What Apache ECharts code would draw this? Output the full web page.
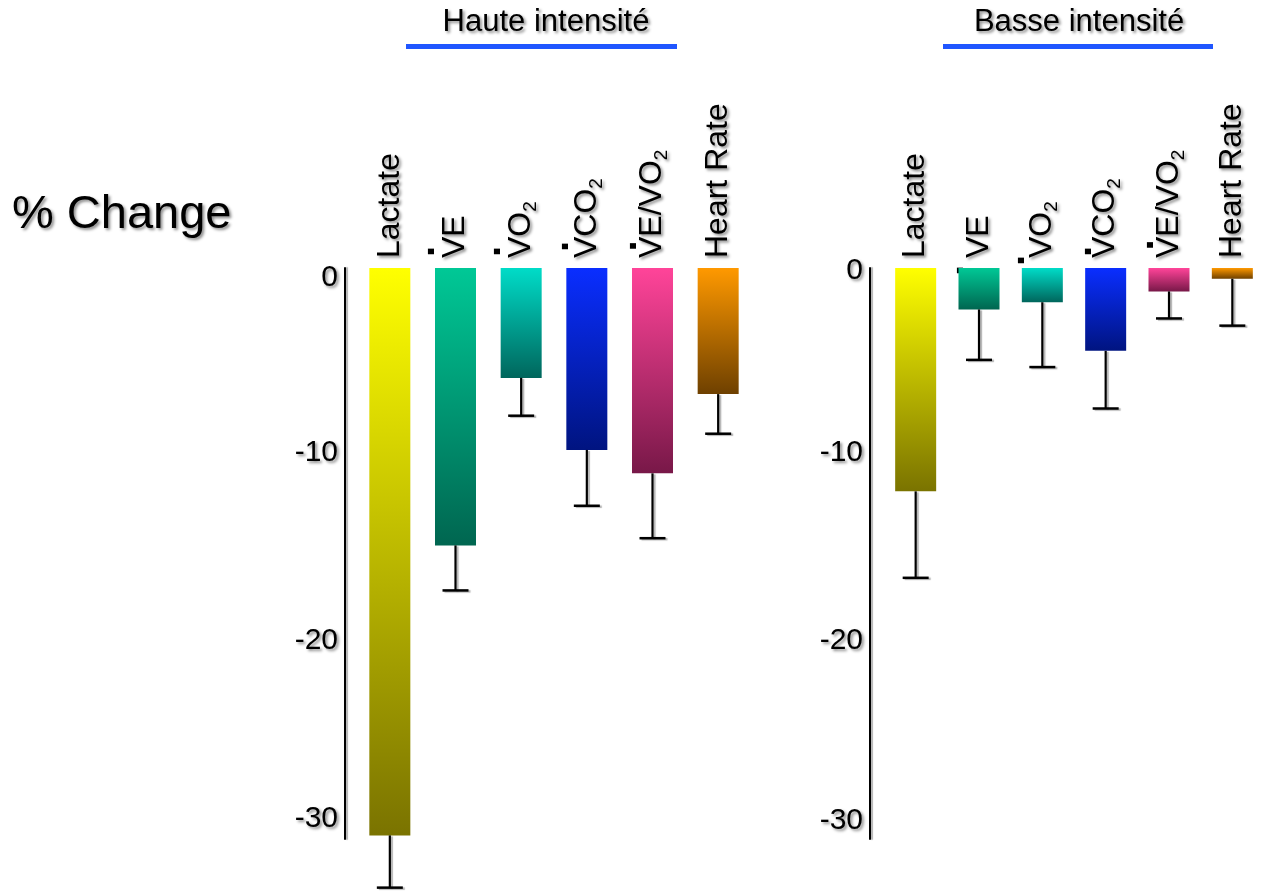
<!DOCTYPE html>
<html>
<head>
<meta charset="utf-8">
<script src="https://cdn.jsdelivr.net/npm/echarts@6/dist/echarts.min.js"></script>
<style>
  html, body { margin: 0; padding: 0; background: #ffffff; }
  #chart { width: 1264px; height: 892px; }
</style>
</head>
<body>
<div id="chart"></div>
<script>
// Measured variables, percent change after exercise
const categories = ['Lactate', 'VE', 'VO2', 'VCO2', 'VE/VO2', 'Heart Rate'];
const highValues = [-31.5, -15.4, -6.1, -10.1, -11.4, -7.0];
const highErrors = [2.9, 2.5, 2.1, 3.1, 3.6, 2.2];
const lowValues = [-12.4, -2.3, -1.9, -4.6, -1.3, -0.6];
const lowErrors = [4.8, 2.8, 3.6, 3.2, 1.5, 2.6];
const yTicks = [0, -10, -20, -30];
const yMin = -31.7;
const panelTitles = ['Haute intensité', 'Basse intensité'];
const axisTitle = '% Change';
const barTopColors = ['#FFFF00', '#00C896', '#00DCC8', '#0A2EFF', '#FF4499', '#FF9900'];
const barBottomColors = ['#7A7300', '#006650', '#00665C', '#001480', '#781848', '#6E4000'];

const FONT = '"Liberation Sans", Arial, Helvetica, sans-serif';
const TEXT_SHADOW = {
  textShadowColor: 'rgba(0,0,0,0.45)',
  textShadowBlur: 3,
  textShadowOffsetX: 2,
  textShadowOffsetY: 2
};

// Placement of the flow-rate dot in each panel's labels:
// shift = offset along the text, lift = box height that sets its distance above the capitals
const dotPlacement = [
  { shift: [0, 1, 1, 6, 6.5, 0], lift: [7, 6, 7, 13, 16, 7] },
  { shift: [0, -18, -8, 1, 7.5, 0], lift: [7, 17, 13, 21, 17, 7] }
];

function dotStyle(shift, lift) {
  return {
    fontSize: 40,
    fontFamily: FONT,
    fontWeight: 'bold',
    color: '#000',
    lineHeight: lift,
    height: lift,
    verticalAlign: 'top',
    width: -shift,
    padding: [0, 0, 0, shift]
  };
}

function categoryRich(panel) {
  const rich = {
    m: Object.assign({ fontSize: 32, fontFamily: FONT, color: '#000', lineHeight: 50 }, TEXT_SHADOW),
    s: Object.assign({ fontSize: 19, fontFamily: FONT, color: '#000', lineHeight: 31, height: 31, verticalAlign: 'bottom' }, TEXT_SHADOW)
  };
  categories.forEach(function (c, i) {
    rich['d' + i] = dotStyle(dotPlacement[panel].shift[i], dotPlacement[panel].lift[i]);
  });
  return rich;
}

// Category names as rich text: dot over the leading V, trailing digit as subscript
function categoryMarkup(name, index) {
  let out = name.charAt(0) === 'V' ? '{d' + index + '|\u00B7}' : '';
  const m = name.match(/^(.*?)(\d)$/);
  if (m) out += '{m|' + m[1] + '}{s|' + m[2] + '}';
  else out += '{m|' + name + '}';
  return out;
}

// vertical shift (px) of each value label below its tick, per panel
const tickLabelShift = [[10, 5, 12, 10], [3, 5, 12, 12]];

function valueAxis(gridIndex, offset) {
  const rich = {};
  tickLabelShift[gridIndex].forEach(function (s, i) {
    rich['t' + i] = Object.assign({ fontSize: 30, fontFamily: FONT, color: '#000', padding: [2 * s, 0, 0, 0] }, TEXT_SHADOW);
  });
  return {
    gridIndex: gridIndex,
    type: 'value',
    min: yMin,
    max: 0,
    offset: offset,
    axisLine: {
      show: true,
      onZero: false,
      lineStyle: { color: '#000', width: 2, shadowColor: 'rgba(0,0,0,0.3)', shadowOffsetX: 2, shadowBlur: 1 }
    },
    axisTick: { show: false },
    splitLine: { show: false },
    axisLabel: {
      customValues: yTicks,
      margin: 7,
      formatter: function (v) {
        const i = yTicks.indexOf(v);
        return '{t' + i + '|' + v + '}';
      },
      rich: rich
    }
  };
}

function categoryAxis(gridIndex) {
  return {
    gridIndex: gridIndex,
    type: 'category',
    data: categories,
    position: 'top',
    axisLine: { show: false, onZero: false },
    axisTick: { show: false },
    axisLabel: {
      interval: 0,
      rotate: -90,
      margin: 10,
      formatter: categoryMarkup,
      rich: categoryRich(gridIndex)
    }
  };
}

function barData(values) {
  return values.map(function (v, i) {
    return {
      value: v,
      itemStyle: {
        color: new echarts.graphic.LinearGradient(0, 0, 0, 1, [
          { offset: 0, color: barTopColors[i] },
          { offset: 1, color: barBottomColors[i] }
        ])
      }
    };
  });
}

function errorData(values, errors) {
  return values.map(function (v, i) { return [i, v, errors[i]]; });
}

const lineStyleShadow = { shadowColor: 'rgba(0,0,0,0.3)', shadowBlur: 1, shadowOffsetX: 2, shadowOffsetY: 1 };

function renderError(params, api) {
  const idx = api.value(0);
  const v = api.value(1);
  const e = api.value(2);
  const start = api.coord([idx, v]);
  const end = api.coord([idx, v - e]);
  const half = 13;
  return {
    type: 'group',
    children: [
      {
        type: 'line',
        shape: { x1: start[0], y1: start[1], x2: end[0], y2: end[1] },
        style: Object.assign({ stroke: '#000', lineWidth: 2.2 }, lineStyleShadow)
      },
      {
        type: 'line',
        shape: { x1: end[0] - half, y1: end[1], x2: end[0] + half, y2: end[1] },
        style: Object.assign({ stroke: '#000', lineWidth: 2.5 }, lineStyleShadow)
      }
    ]
  };
}

function errorSeries(gridIndex, values, errors) {
  return {
    type: 'custom',
    xAxisIndex: gridIndex,
    yAxisIndex: gridIndex,
    renderItem: renderError,
    encode: { x: 0, y: 1 },
    data: errorData(values, errors),
    z: 3,
    silent: true
  };
}

function headingText(text, cx) {
  return {
    type: 'text',
    x: cx,
    y: 22,
    style: Object.assign({
      text: text,
      fontSize: 31,
      fontFamily: FONT,
      fill: '#000',
      align: 'center',
      verticalAlign: 'middle'
    }, TEXT_SHADOW)
  };
}

function headingRule(x1, x2) {
  return {
    type: 'line',
    shape: { x1: x1, y1: 46.5, x2: x2, y2: 46.5 },
    style: { stroke: '#2056FF', lineWidth: 5 }
  };
}

const chart = echarts.init(document.getElementById('chart'), null, { renderer: 'canvas' });

chart.setOption({
  animation: false,
  backgroundColor: '#ffffff',
  grid: [
    { left: 357, top: 268, width: 394, height: 571 },
    { left: 884, top: 268, width: 391, height: 571 }
  ],
  xAxis: [categoryAxis(0), categoryAxis(1)],
  yAxis: [valueAxis(0, 12), valueAxis(1, 14)],
  series: [
    { type: 'bar', xAxisIndex: 0, yAxisIndex: 0, barWidth: 41, data: barData(highValues), z: 2 },
    errorSeries(0, highValues, highErrors),
    { type: 'bar', xAxisIndex: 1, yAxisIndex: 1, barWidth: 41, data: barData(lowValues), z: 2 },
    errorSeries(1, lowValues, lowErrors)
  ],
  graphic: [
    {
      type: 'text',
      x: 12,
      y: 215,
      style: Object.assign({
        text: axisTitle,
        fontSize: 47,
        fontFamily: FONT,
        fill: '#000',
        align: 'left',
        verticalAlign: 'middle'
      }, TEXT_SHADOW)
    },
    headingText(panelTitles[0], 546),
    headingRule(406, 677),
    headingText(panelTitles[1], 1079),
    headingRule(943, 1213)
  ]
});
</script>
</body>
</html>
